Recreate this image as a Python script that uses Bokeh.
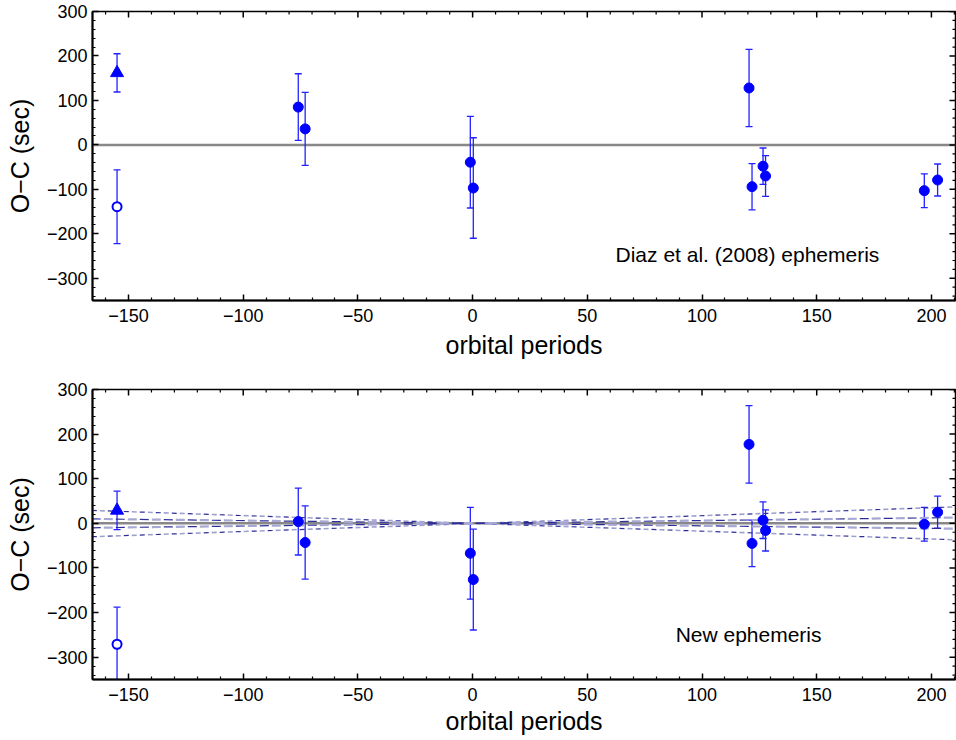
import math
from bokeh.plotting import figure
from bokeh.models import (ColumnDataSource, Whisker, TeeHead, FixedTicker,
                          Range1d, Label, Span)
from bokeh.layouts import column
from bokeh.embed import file_html
from bokeh.resources import INLINE

# ---------------- data ----------------
# filled circles
epoch_pts = [-76.0, -73.0, -1.0, 0.3, 120.5, 121.8, 126.6, 127.7, 196.9, 202.7]
oc_diaz_pts = [85, 36, -39, -97, 128, -94, -48, -70, -103, -79]
oc_new_pts = [4, -43, -67, -126, 177, -45, 7, -16, -2, 25]
err_pts = [75, 82, 103, 113, 87, 52, 41, 46, 38, 36]
# filled triangle
epoch_tri = [-155.0]
oc_diaz_tri = [162]
oc_new_tri = [29]
err_tri = [43]
# open circle
epoch_open = [-155.0]
oc_diaz_open = [-139]
oc_new_open = [-271]
err_open = [83]

# ephemeris uncertainty bands (bottom panel), endpoints
band_x = [-166, 211]
outer_a = [29, -37]
outer_b = [-30, 37]
inner_a = [10, -12]
inner_b = [-10, 13]

x_ticks = [-150, -100, -50, 0, 50, 100, 150, 200]
x_tick_labels = ["\u2212150", "\u2212100", "\u221250", "0", "50", "100", "150", "200"]
y_ticks = [-300, -200, -100, 0, 100, 200, 300]
y_tick_labels = ["\u2212300", "\u2212200", "\u2212100", "0", "100", "200", "300"]
x_minor = [v for v in range(-160, 211, 10) if v not in x_ticks]
y_minor = [v for v in range(-340, 301, 20) if v not in y_ticks]

X0, X1 = -165.7, 210.5
Y0, Y1 = -350, 300

FONT = "Liberation Sans"
BLUE = "#0000ff"


def style_axis(ax):
    ax.axis_line_color = "black"
    ax.axis_line_width = 2
    ax.major_tick_in = 6
    ax.major_tick_out = 0
    ax.minor_tick_in = 3
    ax.minor_tick_out = 0
    ax.major_tick_line_color = "black"
    ax.minor_tick_line_color = "black"
    ax.major_tick_line_width = 1.5
    ax.minor_tick_line_width = 1.2
    ax.major_label_text_font = FONT
    ax.major_label_text_font_size = "18px"
    ax.major_label_text_color = "black"
    ax.axis_label_text_font = FONT
    ax.axis_label_text_font_size = "25px"
    ax.axis_label_text_font_style = "normal"
    ax.axis_label_text_color = "black"


def make_panel(h, top_b, bot_b, lab_standoff, oc_pts, oc_tri, oc_open, note, note_x, note_y, bands):
    p = figure(width=956, height=h, x_range=Range1d(X0, X1), y_range=Range1d(Y0, Y1),
               output_backend="svg", toolbar_location=None,
               min_border_left=92, min_border_right=1, min_border_top=top_b,
               min_border_bottom=bot_b)
    p.xgrid.visible = False
    p.ygrid.visible = False
    p.outline_line_color = "black"
    p.outline_line_width = 1.5
    p.outline_line_alpha = 1.0
    p.background_fill_color = "white"
    p.border_fill_color = "white"

    xa = p.xaxis[0]
    ya = p.yaxis[0]
    xa.ticker = FixedTicker(ticks=x_ticks, minor_ticks=x_minor)
    ya.ticker = FixedTicker(ticks=y_ticks, minor_ticks=y_minor)
    xa.major_label_overrides = dict(zip(x_ticks, x_tick_labels))
    ya.major_label_overrides = dict(zip(y_ticks, y_tick_labels))
    xa.axis_label = "orbital periods"
    ya.axis_label = "O\u2212C (sec)"
    style_axis(xa)
    style_axis(ya)
    xa.major_label_standoff = 8
    xa.axis_label_standoff = lab_standoff
    ya.major_label_standoff = 5
    ya.axis_label_standoff = 10

    # mirrored inward ticks on the top and right frame edges (clipped to frame)
    tick_kw = dict(marker="dash", line_color="black", fill_color="black")
    p.scatter(x_ticks, [Y1] * len(x_ticks), size=12, angle=math.pi / 2, line_width=1.5, **tick_kw)
    p.scatter(x_minor, [Y1] * len(x_minor), size=6, angle=math.pi / 2, line_width=1.2, **tick_kw)
    p.scatter([X1] * len(y_ticks), y_ticks, size=12, line_width=1.5, **tick_kw)
    p.scatter([X1] * len(y_minor), y_minor, size=6, line_width=1.2, **tick_kw)

    p.add_layout(Span(location=0, dimension="width", line_color="#888888",
                      line_width=2.5, level="underlay"))

    if bands:
        for yy in (outer_a, outer_b):
            p.line(band_x, yy, line_color="#a0a0d0", line_width=1.6, line_dash="5 11",
                   line_dash_offset=8)
            p.line(band_x, yy, line_color="#2e2e9a", line_width=1.2, line_dash="5 11")
        for yy in (inner_a, inner_b):
            p.line(band_x, yy, line_color="#a8a8d4", line_width=2.2, line_dash="9 15",
                   line_dash_offset=12)
            p.line(band_x, yy, line_color="#2e2e9a", line_width=1.2, line_dash="9 15")

    for xs, ys, es in ((epoch_pts, oc_pts, err_pts), (epoch_tri, oc_tri, err_tri),
                       (epoch_open, oc_open, err_open)):
        src = ColumnDataSource(dict(x=xs, upper=[y + e for y, e in zip(ys, es)],
                                    lower=[y - e for y, e in zip(ys, es)]))
        p.add_layout(Whisker(source=src, base="x", upper="upper", lower="lower",
                             dimension="height", line_color="#2222ff", line_width=1.3,
                             upper_head=TeeHead(size=7, line_color="#2222ff", line_width=1.3),
                             lower_head=TeeHead(size=7, line_color="#2222ff", line_width=1.3)))

    p.scatter(epoch_pts, oc_pts, size=10, marker="circle", fill_color=BLUE, line_color=BLUE)
    p.scatter(epoch_tri, oc_tri, size=13, marker="triangle", fill_color=BLUE, line_color=BLUE)
    p.scatter(epoch_open, oc_open, size=9, marker="circle", fill_color="white",
              line_color=BLUE, line_width=2)

    p.add_layout(Label(x=note_x, y=note_y, text=note, text_font=FONT,
                       text_font_size="21px", text_baseline="middle", text_align="left",
                       text_color="black"))
    return p


p1 = make_panel(370, 11, 70, 6, oc_diaz_pts, oc_diaz_tri, oc_diaz_open,
                "Diaz et al. (2008) ephemeris", 62.3, -247, False)
p2 = make_panel(370, 19, 61, 3, oc_new_pts, oc_new_tri, oc_new_open,
                "New ephemeris", 88.5, -249, True)

layout = column(p1, p2, spacing=0)
open("out.html", "w").write(file_html(layout, INLINE))
